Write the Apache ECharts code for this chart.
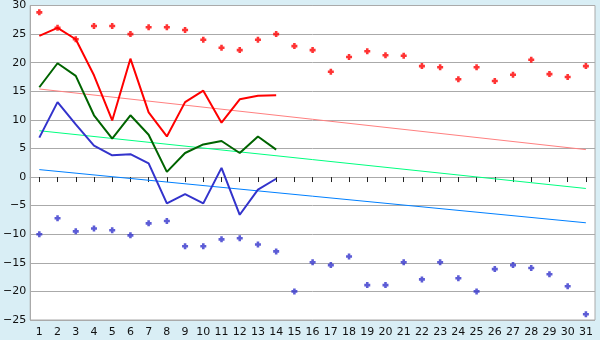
<!DOCTYPE html>
<html>
<head>
<meta charset="utf-8">
<script src="https://cdn.jsdelivr.net/npm/echarts@6/dist/echarts.min.js"></script>
<style>
html,body{margin:0;padding:0;background:#d9eef5;}
#chart{width:600px;height:340px;}
</style>
</head>
<body>
<div id="chart"></div>
<script>
var categories = ['1','2','3','4','5','6','7','8','9','10','11','12','13','14','15','16','17','18','19','20','21','22','23','24','25','26','27','28','29','30','31'];
var yTicks = [-25,-20,-15,-10,-5,0,5,10,15,20,25,30];

var redDots = [28.8,26.1,24.1,26.4,26.4,25.0,26.2,26.2,25.7,24.0,22.6,22.2,24.0,25.0,22.9,22.2,18.4,21.0,22.0,21.3,21.2,19.4,19.2,17.1,19.2,16.8,17.9,20.5,18.0,17.5,19.4];
var blueDots = [-10.0,-7.2,-9.5,-9.0,-9.3,-10.2,-8.1,-7.7,-12.1,-12.1,-10.9,-10.7,-11.8,-13.0,-20.0,-14.9,-15.4,-13.9,-18.9,-18.9,-14.9,-17.9,-14.9,-17.7,-20.0,-16.1,-15.4,-15.9,-17.0,-19.1,-24.0];

var redLine = [24.7,26.1,24.1,17.8,9.9,20.7,11.3,7.1,13.1,15.1,9.5,13.6,14.2,14.3];
var greenLine = [15.7,19.9,17.7,10.8,6.7,10.8,7.4,0.9,4.2,5.7,6.3,4.2,7.1,4.8];
var blueLine = [6.9,13.1,9.2,5.5,3.8,4.0,2.4,-4.6,-3.0,-4.6,1.6,-6.6,-2.2,-0.3];

// trend line end values (first and last category)
var redTrend = [15.4, 4.8];
var greenTrend = [8.1, -2.0];
var blueTrend = [1.3, -8.0];

function trendData(t){
  var d = [];
  for (var i = 0; i < categories.length; i++) d.push(null);
  d[0] = t[0]; d[categories.length - 1] = t[1];
  return d;
}

var chart = echarts.init(document.getElementById('chart'), null, {renderer:'canvas'});
var font = 'DejaVu Sans';
var dotSymbol = 'path://M2,0H5V2H7V5H5V7H2V5H0V2H2Z';

chart.setOption({
  animation: false,
  backgroundColor: '#d9eef5',
  grid: {left: 26, right: 5, top: 5, bottom: 20, show: true, backgroundColor: '#ffffff', borderColor: '#aaaaaa', borderWidth: 1},
  xAxis: {
    type: 'category',
    data: categories,
    boundaryGap: true,
    axisLine: {show: true, lineStyle: {color: '#aaaaaa', width: 1}},
    axisTick: {show: true, alignWithLabel: true, length: 5, lineStyle: {color: '#222'}},
    axisLabel: {color: '#111', fontFamily: font, fontSize: 11, margin: 7, interval: 0},
    splitLine: {show: false}
  },
  yAxis: {
    type: 'value',
    min: yTicks[0], max: yTicks[yTicks.length - 1], interval: 5,
    axisLine: {show: true, lineStyle: {color: '#aaaaaa', width: 1}},
    axisTick: {show: false},
    axisLabel: {color: '#111', fontFamily: font, fontSize: 11, margin: 4,
      formatter: function(v){ return v < 0 ? '\u2212' + Math.abs(v) : String(v); }},
    splitLine: {show: true, lineStyle: {color: '#aaaaaa', width: 1}}
  },
  series: [
    {type: 'line', data: trendData(redTrend), connectNulls: true, symbol: 'none', lineStyle: {color: '#ff8080', width: 1}, z: 2},
    {type: 'line', data: trendData(greenTrend), connectNulls: true, symbol: 'none', lineStyle: {color: '#00ff80', width: 1}, z: 2},
    {type: 'line', data: trendData(blueTrend), connectNulls: true, symbol: 'none', lineStyle: {color: '#0080ff', width: 1}, z: 2},
    {type: 'line', data: redLine, symbol: 'none', lineStyle: {color: '#ff0000', width: 2}, z: 3},
    {type: 'line', data: greenLine, symbol: 'none', lineStyle: {color: '#006400', width: 2}, z: 3},
    {type: 'line', data: blueLine, symbol: 'none', lineStyle: {color: '#3333cc', width: 2}, z: 3},
    {type: 'scatter', data: redDots, symbol: dotSymbol, symbolSize: 6, itemStyle: {color: '#ff0000'}, z: 4},
    {type: 'scatter', data: blueDots, symbol: dotSymbol, symbolSize: 6, itemStyle: {color: '#3333cc'}, z: 4}
  ]
});
</script>
</body>
</html>
